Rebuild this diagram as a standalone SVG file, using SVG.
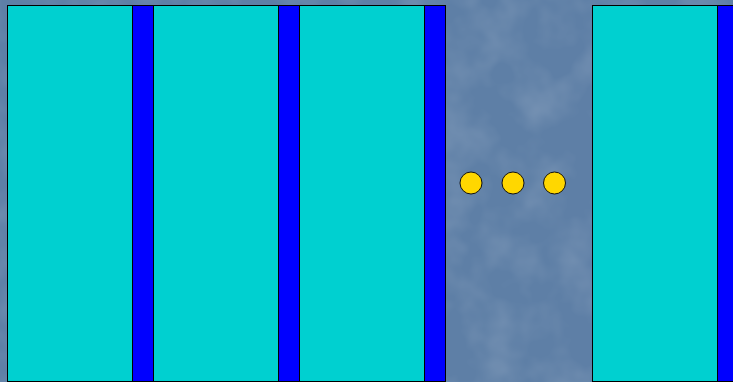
<svg xmlns="http://www.w3.org/2000/svg" width="733" height="382" viewBox="0 0 733 382">
<style>
.cell{fill:#00D0D0;stroke:#000;stroke-width:1}
.bar{fill:#0000FF;stroke:#000;stroke-width:1}
.dot{fill:#FFD700;stroke:#111;stroke-width:1}
</style>
<defs>
<filter id="tex" x="0" y="0" width="100%" height="100%">
<feTurbulence type="fractalNoise" baseFrequency="0.025 0.025" numOctaves="3" seed="4"/>
<feColorMatrix type="matrix" values="0 0 0 0 1  0 0 0 0 1  0 0 0 0 1  0 0 0 0.25 -0.1"/>
</filter>
</defs>
<rect width="733" height="382" fill="#5E7FA6"/>
<rect width="733" height="382" filter="url(#tex)"/>
<g id="cell1"><rect class="cell" x="7.5" y="5.5" width="146" height="376"/><rect class="bar" x="132.5" y="5.5" width="21" height="376"/></g>
<g id="cell2"><rect class="cell" x="153.5" y="5.5" width="146" height="376"/><rect class="bar" x="278.5" y="5.5" width="21" height="376"/></g>
<g id="cell3"><rect class="cell" x="299.5" y="5.5" width="146" height="376"/><rect class="bar" x="424.5" y="5.5" width="21" height="376"/></g>
<g id="dots"><circle class="dot" cx="471" cy="183" r="11"/><circle class="dot" cx="513" cy="183" r="11"/><circle class="dot" cx="554.5" cy="183" r="11"/></g>
<g id="cell4"><rect class="cell" x="592.5" y="5.5" width="146" height="376"/><rect class="bar" x="717.5" y="5.5" width="21" height="376"/></g>
<g id="connectors"></g>
</svg>
